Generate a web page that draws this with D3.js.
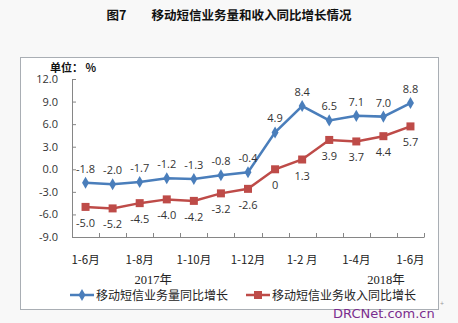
<!DOCTYPE html>
<html>
<head>
<meta charset="utf-8">
<script src="https://cdn.jsdelivr.net/npm/d3@7"></script>
<style>
  html, body { margin: 0; padding: 0; background: #f8f8f8; }
  svg { display: block; }
</style>
</head>
<body>
<svg id="chart" width="458" height="323"></svg>
<script>
// Periods: Jan-Jun 2017 through Jan-Jun 2018 (cumulative)
const categories = ["1-6月", "1-7月", "1-8月", "1-9月", "1-10月", "1-11月", "1-12月",
                    "1月", "1-2月", "1-3月", "1-4月", "1-5月", "1-6月"];
// Only every other period is labelled on the axis
const shownLabels = ["1-6月", "", "1-8月", "", "1-10月", "", "1-12月",
                     "", "1-2 月", "", "1-4月", "", "1-6月"];
const volumeGrowth = [-1.8, -2.0, -1.7, -1.2, -1.3, -0.8, -0.4, 4.9, 8.4, 6.5, 7.1, 7.0, 8.8];
const revenueGrowth = [-5.0, -5.2, -4.5, -4.0, -4.2, -3.2, -2.6, 0, 1.3, 3.9, 3.7, 4.4, 5.7];
const yTicks = [12, 9, 6, 3, 0, -3, -6, -9];
const seriesNames = ["移动短信业务量同比增长", "移动短信业务收入同比增长"];
const years = [{ label: "2017年", at: 2.5 }, { label: "2018年", at: 11.1 }];

const svg = d3.select("#chart");
const cjk = "'Noto Sans CJK SC', 'Noto Sans', sans-serif";
const num = "'Open Sans', 'Liberation Sans', sans-serif";
const blue = "#4a7ebb", red = "#be4b48";

// Title
svg.append("text")
  .attr("x", 229).attr("y", 20)
  .attr("text-anchor", "middle")
  .attr("font-family", cjk).attr("font-weight", "bold").attr("font-size", 12.5)
  .attr("fill", "#111")
  .text("图7　　移动短信业务量和收入同比增长情况");

// Chart frame
svg.append("rect")
  .attr("x", 20.5).attr("y", 57.5).attr("width", 418).attr("height", 252)
  .attr("fill", "#ffffff").attr("stroke", "#a9aeb4").attr("stroke-width", 1);

// Scales
const x = d3.scaleBand().domain(d3.range(categories.length)).range([72, 424]).padding(0);
const bw = x.bandwidth();
const cx = i => x(0) + (i + 0.5) * bw;   // centre of period i (fractional allowed)
const y = d3.scaleLinear().domain([-9, 12]).range([237, 79]);

// Unit label
svg.append("text")
  .attr("x", 50).attr("y", 72)
  .attr("font-family", cjk).attr("font-weight", "bold").attr("font-size", 11)
  .attr("fill", "#111")
  .text("单位： %");

// Y axis
const yAxis = svg.append("g")
  .attr("transform", "translate(72,0)")
  .call(d3.axisLeft(y).tickValues(yTicks).tickSize(-4).tickPadding(14).tickFormat(d3.format(".1f")));
yAxis.select(".domain").attr("stroke", "#868686");
yAxis.selectAll(".tick line").attr("stroke", "#868686");
yAxis.selectAll(".tick text")
  .attr("font-family", num).attr("font-size", 11).attr("fill", "#333")
  .text(d => d3.format(".1f")(d).replace("−", "-"));

// X axis: tick marks at period boundaries, labels at period centres
const xAxisY = y(-9);
const bounds = d3.range(categories.length + 1).map(i => x(0) + i * bw);
svg.append("line")
  .attr("x1", 72).attr("x2", 424).attr("y1", xAxisY + 0.5).attr("y2", xAxisY + 0.5)
  .attr("stroke", "#868686");
svg.append("g").selectAll("line").data(bounds).join("line")
  .attr("x1", d => Math.round(d) + 0.5).attr("x2", d => Math.round(d) + 0.5)
  .attr("y1", xAxisY - 4).attr("y2", xAxisY + 0.5)
  .attr("stroke", "#868686");
svg.append("g").selectAll("text").data(shownLabels).join("text")
  .attr("x", (d, i) => cx(i)).attr("y", 264)
  .attr("text-anchor", "middle")
  .attr("font-family", cjk).attr("font-size", 11.5).attr("fill", "#222")
  .text(d => d);

// Year labels
svg.append("g").selectAll("text").data(years).join("text")
  .attr("x", d => cx(d.at)).attr("y", 284)
  .attr("text-anchor", "middle")
  .attr("font-family", "'Liberation Serif', 'Noto Sans CJK SC', serif").attr("font-size", 12.5).attr("fill", "#222")
  .text(d => d.label);

// Lines
const line = d3.line().x((d, i) => cx(i)).y(d => y(d));
svg.append("path").datum(revenueGrowth)
  .attr("d", line).attr("fill", "none").attr("stroke", red).attr("stroke-width", 2.5);
svg.append("path").datum(volumeGrowth)
  .attr("d", line).attr("fill", "none").attr("stroke", blue).attr("stroke-width", 2.5);

// Markers
svg.append("g").selectAll("rect").data(revenueGrowth).join("rect")
  .attr("x", (d, i) => cx(i) - 4).attr("y", d => y(d) - 4)
  .attr("width", 8).attr("height", 8).attr("fill", red);
const diamond = d3.symbol().type(d3.symbolDiamond).size(42);
svg.append("g").selectAll("path").data(volumeGrowth).join("path")
  .attr("transform", (d, i) => `translate(${cx(i)},${y(d)})`)
  .attr("d", diamond).attr("fill", blue);

// Data labels
const fmt = v => v === 0 ? "0" : d3.format(".1f")(v).replace("−", "-");
svg.append("g").selectAll("text").data(volumeGrowth).join("text")
  .attr("x", (d, i) => cx(i)).attr("y", d => y(d) - 10)
  .attr("text-anchor", "middle")
  .attr("font-family", num).attr("font-size", 11).attr("fill", "#333")
  .text(fmt);
svg.append("g").selectAll("text").data(revenueGrowth).join("text")
  .attr("x", (d, i) => cx(i)).attr("y", d => y(d) + 20)
  .attr("text-anchor", "middle")
  .attr("font-family", num).attr("font-size", 11).attr("fill", "#333")
  .text(fmt);

// Legend
const legend = [
  { name: seriesNames[0], color: blue, x0: 70, shape: "diamond" },
  { name: seriesNames[1], color: red, x0: 246, shape: "square" }
];
const lg = svg.append("g").selectAll("g").data(legend).join("g")
  .attr("transform", d => `translate(${d.x0},295)`);
lg.append("line").attr("x1", 0).attr("x2", 24).attr("y1", 0).attr("y2", 0)
  .attr("stroke", d => d.color).attr("stroke-width", 2.5);
lg.each(function (d) {
  const g = d3.select(this);
  if (d.shape === "diamond") {
    g.append("path").attr("transform", "translate(12,0)").attr("d", diamond).attr("fill", d.color);
  } else {
    g.append("rect").attr("x", 8).attr("y", -4).attr("width", 8).attr("height", 8).attr("fill", d.color);
  }
});
lg.append("text").attr("x", 26).attr("y", 4.5)
  .attr("font-family", cjk).attr("font-size", 12).attr("fill", "#222")
  .text(d => d.name);

// Site mark
svg.append("text")
  .attr("x", 333).attr("y", 318)
  .attr("font-family", "'DejaVu Sans', sans-serif").attr("font-size", 13).attr("fill", "#7b2d8e")
  .text("DRCNet.com.cn");
svg.append("text")
  .attr("x", 440).attr("y", 306)
  .attr("font-family", num).attr("font-size", 7).attr("fill", "#999")
  .text("+");
</script>
</body>
</html>
